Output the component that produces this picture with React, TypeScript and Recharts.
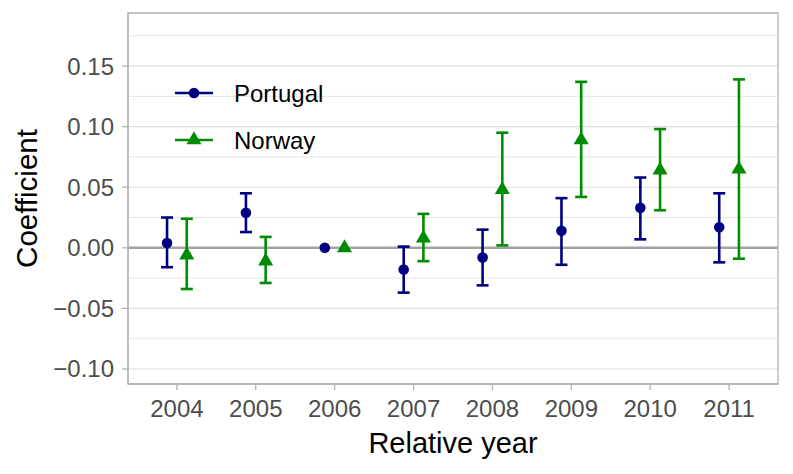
import React from "react";
import {
  ScatterChart,
  Scatter,
  XAxis,
  YAxis,
  CartesianGrid,
  ReferenceLine,
  ReferenceArea,
  ErrorBar,
} from "recharts";

const years = ["2004", "2005", "2006", "2007", "2008", "2009", "2010", "2011"];

const portugalCoef = [0.004, 0.029, 0, -0.018, -0.008, 0.014, 0.033, 0.017];
const portugalLow = [-0.016, 0.013, null, -0.037, -0.031, -0.014, 0.007, -0.012];
const portugalHigh = [0.025, 0.045, null, 0.001, 0.015, 0.041, 0.058, 0.045];

const norwayCoef = [-0.006, -0.011, 0, 0.008, 0.048, 0.089, 0.064, 0.065];
const norwayLow = [-0.034, -0.029, null, -0.011, 0.002, 0.042, 0.031, -0.009];
const norwayHigh = [0.024, 0.009, null, 0.028, 0.095, 0.137, 0.098, 0.139];

const yTicks = [-0.1, -0.05, 0, 0.05, 0.1, 0.15];
const minorTicks = [-0.075, -0.025, 0.025, 0.075, 0.125, 0.175];

const NAVY = "#000080";
const GREEN = "#008B00";
const FONT = "'Liberation Sans', Arial, Helvetica, sans-serif";
const DODGE = 0.125;

const Y_DOMAIN: [number, number] = [-0.1124, 0.1938];
const X_DOMAIN: [number, number] = [-0.62, 7.62];

const buildRows = (
  coef: number[],
  low: (number | null)[],
  high: (number | null)[],
  shift: number
) =>
  coef.map((v, i) => {
    const lo = low[i];
    const hi = high[i];
    return {
      x: i + shift,
      y: v,
      err: lo == null || hi == null ? null : [v - lo, hi - v],
    };
  });

const portugalRows = buildRows(portugalCoef, portugalLow, portugalHigh, -DODGE);
const norwayRows = buildRows(norwayCoef, norwayLow, norwayHigh, DODGE);

const triPath = (cx: number, cy: number, s: number) => {
  const h = (s * Math.sqrt(3)) / 2;
  return `M${cx},${cy - (2 * h) / 3}L${cx + s / 2},${cy + h / 3}L${cx - s / 2},${cy + h / 3}Z`;
};

const DotShape = (p: any) => <circle cx={p.cx} cy={p.cy} r={5.3} fill={NAVY} />;
const TriShape = (p: any) => <path d={triPath(p.cx, p.cy, 15)} fill={GREEN} />;

const fmtY = (v: number) => {
  const s = Math.abs(v).toFixed(2);
  return v < -1e-9 ? `\u2212${s}` : s;
};

// legend drawn as an overlay inside the panel, like the original
const LegendBox = () => {
  const items = [
    { name: "Portugal", color: NAVY, tri: false },
    { name: "Norway", color: GREEN, tri: true },
  ];
  return (
    <svg
      width={200}
      height={100}
      style={{ position: "absolute", left: 165, top: 65, fontFamily: FONT }}
    >
      {items.map((it, i) => {
        const cy = 28 + i * 47;
        return (
          <g key={it.name}>
            <line x1={10} x2={48} y1={cy} y2={cy} stroke={it.color} strokeWidth={2.6} />
            {it.tri ? (
              <path d={triPath(29, cy, 15)} fill={it.color} />
            ) : (
              <circle cx={29} cy={cy} r={5.3} fill={it.color} />
            )}
            <text x={69} y={cy + 9} fontSize={24} fill="#000">
              {it.name}
            </text>
          </g>
        );
      })}
    </svg>
  );
};

export default function App() {
  return (
    <div style={{ position: "absolute", left: 0, top: 0, width: 793, height: 474, background: "#fff" }}>
      <ScatterChart
        width={793}
        height={474}
        margin={{ top: 13, right: 15, left: 0, bottom: 0 }}
        style={{ fontFamily: FONT }}
      >
        <CartesianGrid vertical={false} stroke="#dedede" strokeWidth={1.2} />
        {minorTicks.map((t) => (
          <ReferenceLine key={t} y={t} stroke="#e6e6e6" strokeWidth={1} />
        ))}
        <ReferenceLine y={0} stroke="#a3a3a3" strokeWidth={2.6} />
        <XAxis
          type="number"
          dataKey="x"
          domain={X_DOMAIN}
          ticks={[0, 1, 2, 3, 4, 5, 6, 7]}
          tickFormatter={(i: number) => years[Math.round(i)]}
          allowDataOverflow
          height={90}
          tickSize={6}
          tickMargin={10}
          stroke="#b3b3b3"
          axisLine={{ stroke: "#b3b3b3", strokeWidth: 1.3 }}
          tickLine={{ stroke: "#b3b3b3", strokeWidth: 1.3 }}
          tick={{ fill: "#4d4d4d", fontSize: 24 }}
          label={{
            content: (props: any) => {
              const vb = props.viewBox || { x: 128, width: 650 };
              return (
                <text x={vb.x + vb.width / 2} y={453} textAnchor="middle" fontSize={29} fill="#000">
                  Relative year
                </text>
              );
            },
          }}
        />
        <YAxis
          type="number"
          dataKey="y"
          domain={Y_DOMAIN}
          ticks={yTicks}
          tickFormatter={fmtY}
          allowDataOverflow
          width={128}
          tickSize={6}
          tickMargin={8}
          stroke="#b3b3b3"
          axisLine={{ stroke: "#b3b3b3", strokeWidth: 1.3 }}
          tickLine={{ stroke: "#b3b3b3", strokeWidth: 1.3 }}
          tick={{ fill: "#4d4d4d", fontSize: 24 }}
          label={{
            content: (props: any) => {
              const vb = props.viewBox || { y: 13, height: 371 };
              const cy = vb.y + vb.height / 2;
              return (
                <text
                  x={37}
                  y={cy}
                  transform={`rotate(-90 37 ${cy})`}
                  textAnchor="middle"
                  fontSize={29.5}
                  fill="#000"
                >
                  Coefficient
                </text>
              );
            },
          }}
        />
        <Scatter name="Portugal" data={portugalRows} shape={DotShape} isAnimationActive={false}>
          <ErrorBar dataKey="err" direction="y" width={6} stroke={NAVY} strokeWidth={2.6} isAnimationActive={false} />
        </Scatter>
        <Scatter name="Norway" data={norwayRows} shape={TriShape} isAnimationActive={false}>
          <ErrorBar dataKey="err" direction="y" width={6} stroke={GREEN} strokeWidth={2.6} isAnimationActive={false} />
        </Scatter>
        <ReferenceArea
          x1={X_DOMAIN[0]}
          x2={X_DOMAIN[1]}
          y1={Y_DOMAIN[0]}
          y2={Y_DOMAIN[1]}
          fill="none"
          fillOpacity={0}
          stroke="#b3b3b3"
          strokeWidth={1.3}
          ifOverflow="visible"
        />
      </ScatterChart>
      <LegendBox />
    </div>
  );
}
